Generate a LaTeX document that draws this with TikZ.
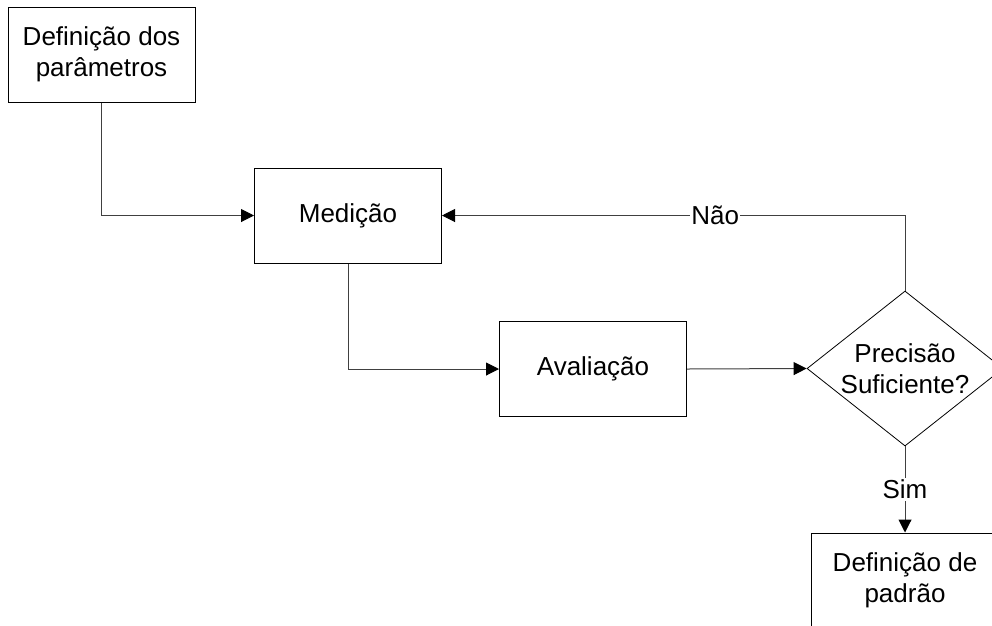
\documentclass[tikz,border=0pt]{standalone}
\usepackage{fontspec}
\setmainfont{Liberation Sans}
\usetikzlibrary{arrows.meta,shapes.geometric}
\begin{document}
\begin{tikzpicture}[x=1pt,y=-1pt,
  every node/.style={font=\fontsize{26}{31.5}\selectfont, align=center, inner sep=0pt},
  procbox/.style={draw=black, line width=1pt, rectangle, minimum width=187pt, minimum height=95pt},
  decision/.style={draw=black, line width=0.8pt, diamond, minimum width=196pt, minimum height=155pt},
  conn/.style={draw=black!75, line width=1pt},
  arr/.style={conn, -{Triangle[length=13pt,width=13pt,color=black,fill=black]}},
  lbl/.style={fill=white, inner xsep=1pt, inner ysep=2pt}]
\useasboundingbox (0,0) rectangle (992,625);
\clip (0,0) rectangle (992,625);
\fill[white] (0,0) rectangle (992,625);
\node[procbox] (param) at (101.5,54.5) {Definição dos\\parâmetros};
\node[procbox] (med) at (348,215.5) {Medição};
\node[procbox] (aval) at (593,369) {Avaliação};
\node[decision] (prec) at (905,368.5) {};
\node (prectext) at (prec.center) {Precisão\\Suficiente?};
\node[procbox] (pad) at (905,580.5) {Definição de\\padrão};
\coordinate (c1) at (param.south |- med.west);
\coordinate (c2) at (med.south |- aval.west);
\coordinate (c3) at (prec.north |- med.east);
\draw[arr] (param.south) -- (c1) -- (med.west);
\draw[arr] (med.south) -- (c2) -- (aval.west);
\draw[arr] (aval.east) -- (prec.west);
\draw[arr] (prec.north) -- (c3) -- node[lbl, pos=0.41] {Não} (med.east);
\draw[arr] (prec.south) -- node[lbl, pos=0.5] {Sim} (pad.north);
\end{tikzpicture}
\end{document}
